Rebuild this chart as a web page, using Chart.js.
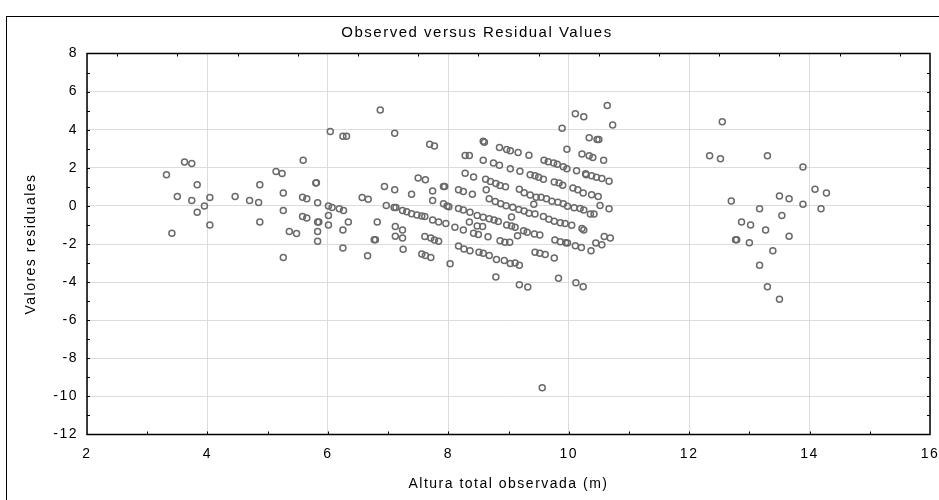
<!DOCTYPE html>
<html>
<head>
<meta charset="utf-8">
<title>Observed versus Residual Values</title>
<script src="https://cdn.jsdelivr.net/npm/chart.js@4"></script>
<style>
  html, body { margin: 0; padding: 0; background: #fff; }
  canvas { display: block; }
</style>
</head>
<body>
<canvas id="grafico" width="939" height="500"></canvas>
<script>
// altura observada (m) y residuos
const alturaObservada = [
  3.62, 3.74, 3.32, 3.83, 3.50, 3.74, 4.04, 3.95, 3.83, 4.04, 3.41, 4.46, 4.70, 4.85, 4.87, 4.87, 5.14,
  5.26, 5.26, 5.26, 5.24, 5.36, 5.48, 5.59, 5.58, 5.65, 5.58, 5.65, 5.80, 5.81, 5.83, 5.83, 5.85, 5.83, 5.83,
  6.04, 6.01, 6.07, 6.01, 6.01, 6.19, 6.26, 6.25, 6.25, 6.25, 6.31, 6.34, 6.57, 6.67, 6.66, 6.77, 6.79, 6.82,
  6.87, 6.94, 6.97, 7.11, 7.11, 7.10, 7.13, 7.12, 7.24, 7.12, 7.24, 7.25, 7.24, 7.31, 7.39, 7.39, 7.48, 7.56,
  7.61, 7.74, 7.84, 7.96, 7.50, 7.62, 7.74, 7.74, 7.69, 7.77, 7.92, 7.94, 7.92, 7.98, 7.61, 7.71, 7.77, 7.84,
  7.56, 7.62, 7.71, 8.03,
  9.89, 9.97, 8.58, 8.60, 8.85, 8.97, 9.03, 9.16, 9.34, 8.28, 8.35, 8.58, 8.75, 8.85, 9.03, 9.19, 9.36, 9.44,
  9.50, 9.58, 9.59, 9.66, 9.75, 9.81, 9.91, 9.97, 9.76, 9.84, 9.90, 8.28, 8.42, 8.62, 8.70, 8.79, 8.86, 8.95,
  8.63, 8.17, 8.25, 8.40, 9.18, 9.26, 9.36, 9.46, 9.54, 9.63, 9.72, 9.82, 9.91, 9.42, 8.68, 8.78, 8.87, 8.96,
  9.07, 9.17, 9.26, 9.34, 9.44, 8.01, 8.17, 8.25, 8.36, 8.48, 8.58, 8.68, 8.76, 8.83, 9.05, 9.58, 9.67, 9.76,
  9.86, 9.94, 8.11, 8.25, 8.35, 8.48, 8.57, 8.97, 9.05, 9.11, 8.42, 8.50, 8.66, 9.15, 9.25, 9.31, 9.43, 9.52,
  8.86, 8.94, 9.02, 9.77, 9.86, 9.95, 9.44, 9.52, 9.61, 9.76, 8.17, 8.26, 8.36, 8.51, 8.58, 8.68, 8.80, 8.93,
  9.03, 9.11, 9.18, 8.79, 9.18, 9.32, 9.83,
  10.64, 10.11, 10.25, 10.73, 10.34, 10.47, 10.50, 10.22, 10.34, 10.40, 10.58, 10.13, 10.28, 10.29, 10.38,
  10.46, 10.55, 10.67, 10.07, 10.15, 10.24, 10.38, 10.49, 10.52, 10.67, 9.98, 10.09, 10.19, 10.25, 10.36,
  10.42, 10.05, 10.22, 10.25, 10.59, 10.69, 10.45, 10.55, 9.98, 10.11, 10.21, 10.37, 10.12, 10.24,
  12.55, 12.34, 12.52, 13.30, 13.89, 14.09, 14.28, 12.70, 13.50, 13.66, 13.89, 14.19, 13.17, 13.54, 12.87,
  13.02, 13.27, 13.66, 12.77, 12.79, 13.00, 13.39, 13.17, 13.30, 13.50,
  9.56
];
const residuos = [
  2.30, 2.23, 1.63, 1.11, 0.50, 0.28, 0.44, 0.00, -0.33, -1.00, -1.43, 0.50, 0.28, 0.18, 1.11, -0.84, 1.80,
  0.68, -0.24, -2.71, 1.70, -1.34, -1.45, 2.39, 0.45, 0.38, -0.55, -0.64, 1.20, 1.22, 0.16, -0.84, -0.84, -1.34, -1.86,
  3.91, -0.01, -0.08, -0.50, -1.00, -0.15, -0.24, -1.26, -2.21, 3.66, 3.66, -0.84, 0.44, 0.35, -2.62, -1.78, -1.78, -0.84,
  5.03, 1.02, 0.02, 3.82, 0.85, -0.08, -0.08, -1.08, -1.26, -1.59, -1.69, -2.28, -0.24, -0.31, 0.61, -0.41, -0.48, -0.53,
  -0.56, -0.74, -0.84, -0.93, 1.46, 1.37, 0.78, 0.28, 3.23, 3.15, 1.02, 1.02, 0.11, -0.01, -1.60, -1.69, -1.79, -1.86,
  -2.53, -2.61, -2.71, -3.04,
  4.08, 2.97, 3.40, 3.34, 3.06, 2.96, 2.89, 2.80, 2.66, 2.65, 2.65, 2.39, 2.25, 2.14, 1.95, 1.82, 1.64, 1.58,
  1.51, 1.40, 2.39, 2.32, 2.25, 2.18, 2.06, 1.95, 1.26, 1.20, 1.09, 1.72, 1.52, 1.40, 1.28, 1.18, 1.07, 1.01,
  0.85, 0.85, 0.76, 0.61, 0.87, 0.69, 0.57, 0.45, 0.45, 0.38, 0.24, 0.19, 0.11, 0.09, 0.37, 0.23, 0.11, 0.01,
  -0.07, -0.19, -0.27, -0.38, -0.43, -0.05, -0.13, -0.22, -0.33, -0.50, -0.60, -0.67, -0.74, -0.82, -0.58, -0.55, -0.70, -0.81,
  -0.88, -0.93, -1.12, -1.26, -0.84, -1.05, -1.08, -1.00, -1.05, -1.12, -1.43, -1.50, -1.62, -1.57, -1.31, -1.38, -1.47, -1.53,
  -1.83, -1.91, -1.91, -1.79, -1.88, -1.93, -2.43, -2.48, -2.55, -2.74, -2.10, -2.26, -2.36, -2.43, -2.48, -2.61, -2.81, -2.87,
  -3.02, -3.00, -3.12, -3.73, -4.14, -4.26, -3.80,
  5.27, 4.84, 4.68, 4.25, 3.58, 3.48, 3.48, 2.73, 2.63, 2.54, 2.39, 1.85, 1.69, 1.63, 1.58,
  1.51, 1.44, 1.30, 0.94, 0.85, 0.68, 0.59, 0.50, 0.02, -0.15, -0.02, -0.10, -0.13, -0.22, -0.43,
  -0.43, -1.02, -1.19, -1.26, -1.60, -1.69, -1.95, -2.04, -1.95, -2.09, -2.19, -2.36, -4.04, -4.24,
  4.42, 2.63, 2.47, 2.63, 2.04, 0.87, 0.68, 0.26, 0.52, 0.37, 0.09, -0.15, -0.15, -0.50, -0.84,
  -1.00, -1.26, -1.59, -1.78, -1.78, -1.93, -2.36, -3.12, -4.24, -4.90,
  -9.55
];

const xMin = 2, xMax = 16, xPaso = 2;
const yMin = -12, yMax = 8, yPaso = 2;

const puntos = alturaObservada.map((x, i) => ({ x: x, y: residuos[i] }));

const fuente = "'Liberation Sans', Arial, sans-serif";

// el original tiene el texto algo estirado a lo ancho
const espaciado = {
  id: "espaciado",
  afterLayout(chart) {
    // el título del original está algo a la derecha del centro
    if (chart.titleBlock) {
      chart.titleBlock.left += 12;
      chart.titleBlock.right += 12;
    }
  },
  beforeDraw(chart) {
    chart.ctx.letterSpacing = "1.5px";
  }
};

// marco exterior, caja del gráfico y marcas pequeñas de los ejes
const marco = {
  id: "marco",
  afterDraw(chart) {
    const { ctx, chartArea: a, scales } = chart;
    const sx = scales.x, sy = scales.y;
    ctx.save();
    ctx.strokeStyle = "#000";
    ctx.lineWidth = 1;
    ctx.strokeRect(6.5, 16.5, 940, 500);
    ctx.lineWidth = 1.5;
    ctx.strokeRect(a.left, a.top, a.right - a.left, a.bottom - a.top);
    ctx.lineWidth = 1;
    ctx.beginPath();
    for (let v = xMin + 1; v < xMax; v++) {
      const px = Math.round(sx.getPixelForValue(v)) + 0.5;
      ctx.moveTo(px, a.bottom);
      ctx.lineTo(px, a.bottom - 3);
    }
    for (let v = xMin + 0.5; v < xMax; v++) {
      const px = Math.round(sx.getPixelForValue(v)) + 0.5;
      ctx.moveTo(px, a.top);
      ctx.lineTo(px, a.top + 3);
    }
    for (let v = yMin + 1; v < yMax; v++) {
      const py = Math.round(sy.getPixelForValue(v)) + 0.5;
      ctx.moveTo(a.left, py);
      ctx.lineTo(a.left + 3, py);
      ctx.moveTo(a.right, py);
      ctx.lineTo(a.right - 3, py);
    }
    ctx.stroke();
    ctx.restore();
  }
};

new Chart(document.getElementById("grafico"), {
  type: "scatter",
  data: {
    datasets: [
      {
        label: "Residuos",
        data: puntos,
        pointRadius: 3,
        pointBorderWidth: 1.5,
        pointBorderColor: "#6a6a6a",
        pointBackgroundColor: "rgba(0,0,0,0)",
        pointHoverRadius: 3
      }
    ]
  },
  options: {
    responsive: false,
    devicePixelRatio: 1,
    animation: false,
    layout: { padding: { top: 0, left: 0, right: 9, bottom: 0 } },
    plugins: {
      legend: { display: false },
      tooltip: { enabled: false },
      title: {
        display: true,
        text: "Observed versus Residual Values",
        color: "#000",
        font: { family: fuente, size: 15, weight: "normal" },
        padding: { top: 24, bottom: 11.5 }
      }
    },
    scales: {
      x: {
        type: "linear",
        min: xMin,
        max: xMax,
        afterFit: (s) => {
          s.height = 65.5;
          s.paddingLeft = 0;
          s.paddingRight = 0;
        },
        ticks: {
          stepSize: xPaso,
          color: "#000",
          padding: 11,
          maxRotation: 0,
          font: { family: fuente, size: 14 }
        },
        grid: { color: "#dcdcdc", lineWidth: 1, drawTicks: false },
        border: { display: false },
        title: {
          display: true,
          text: "Altura total observada (m)",
          color: "#000",
          font: { family: fuente, size: 14 },
          padding: { top: 0, bottom: 7.6 }
        }
      },
      y: {
        type: "linear",
        min: yMin,
        max: yMax,
        afterFit: (s) => {
          s.width = 87;
          s.paddingTop = 0;
          s.paddingBottom = 0;
        },
        ticks: {
          stepSize: yPaso,
          color: "#000",
          padding: 9,
          font: { family: fuente, size: 14 }
        },
        grid: { color: "#dcdcdc", lineWidth: 1, drawTicks: false },
        border: { display: false },
        title: {
          display: true,
          text: "Valores residuales",
          color: "#000",
          font: { family: fuente, size: 14 },
          padding: { top: 23, bottom: 0 }
        }
      }
    }
  },
  plugins: [espaciado, marco]
});
</script>
</body>
</html>
